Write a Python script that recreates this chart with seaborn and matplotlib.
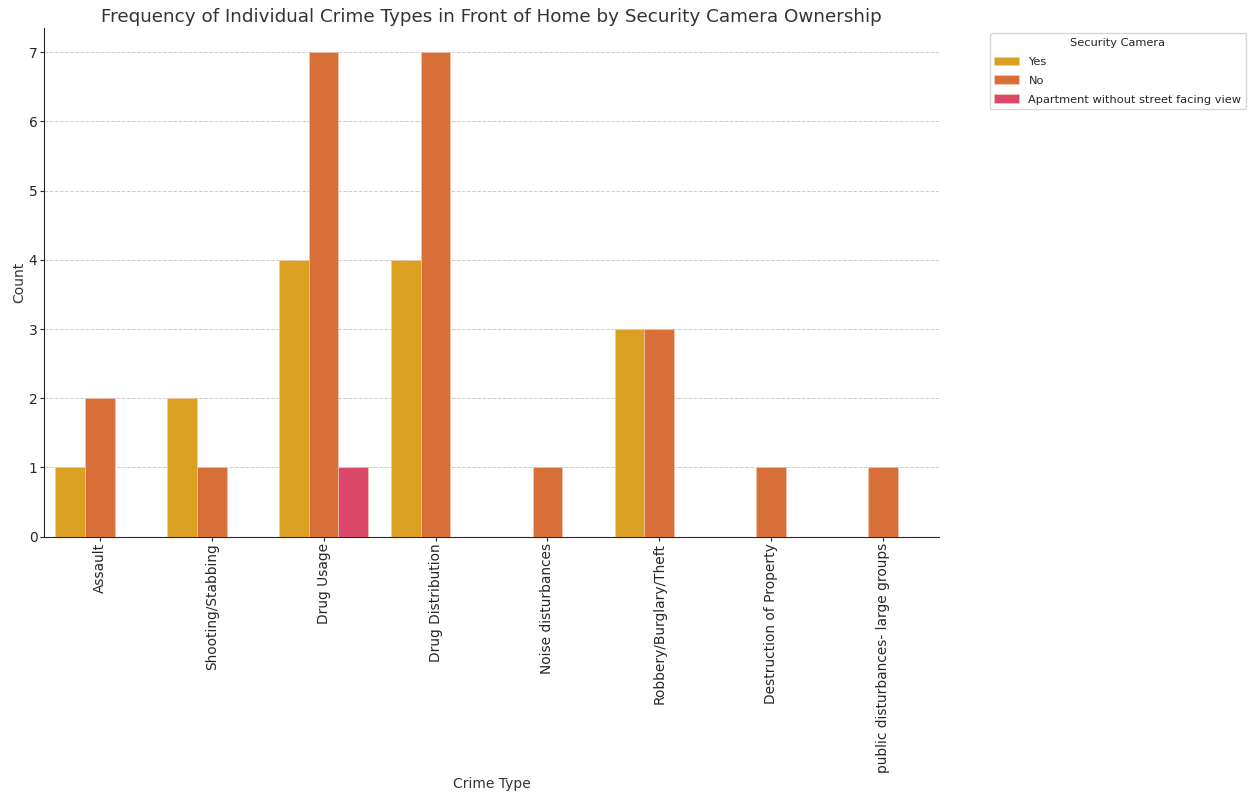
import matplotlib
matplotlib.use("Agg")
import matplotlib.pyplot as plt
import seaborn as sns
import pandas as pd

crime_types = ["Assault", "Shooting/Stabbing", "Drug Usage", "Drug Distribution",
               "Noise disturbances", "Robbery/Burglary/Theft",
               "Destruction of Property", "public disturbances- large groups"]
hue_levels = ["Yes", "No", "Apartment without street facing view"]
yes_counts = [1, 2, 4, 4, 0, 3, 0, 0]
no_counts = [2, 1, 7, 7, 1, 3, 1, 1]
apt_counts = [0, 0, 1, 0, 0, 0, 0, 0]
colors = ["#DBA021", "#D86E38", "#DC4867"]

rows = []
for lvl, vals in zip(hue_levels, [yes_counts, no_counts, apt_counts]):
    for c, v in zip(crime_types, vals):
        if v > 0:
            rows.append({"Crime Type": c, "Security Camera": lvl, "Count": v})
df = pd.DataFrame(rows)

sns.set_style("ticks")
fig = plt.figure(figsize=(12.49, 7.94), dpi=100)
ax = fig.add_axes([0.035, 0.324, 0.717, 0.641])
sns.barplot(data=df, x="Crime Type", y="Count", hue="Security Camera",
            order=crime_types, hue_order=hue_levels, palette=colors, saturation=1,
            edgecolor="#f3c8b0", linewidth=0.5, ax=ax, zorder=3)
ax.set_xlim(-0.5, 7.5)
ax.set_ylim(0, 7.35)
ax.yaxis.grid(True, linestyle="--", color="#cccccc", linewidth=0.7, zorder=0)
ax.set_axisbelow(True)
sns.despine(ax=ax)
ax.tick_params(axis="x", rotation=90, labelsize=9.9, length=3, pad=1.5)
ax.tick_params(axis="y", labelsize=9.9, length=3, pad=1.5)
ax.set_title("Frequency of Individual Crime Types in Front of Home by Security Camera Ownership",
             fontsize=13.2, color="#333333", pad=4)
ax.set_xlabel("Crime Type", fontsize=10, color="#333333", labelpad=3)
ax.set_ylabel("Count", fontsize=10, color="#333333", labelpad=2)
leg = ax.legend(title="Security Camera", bbox_to_anchor=(1.05, 1.0), loc="upper left",
                fontsize=8.2, title_fontsize=8.2, labelspacing=0.75,
                handlelength=2.2, handleheight=0.8)
fig.savefig("out.png", dpi=100)
